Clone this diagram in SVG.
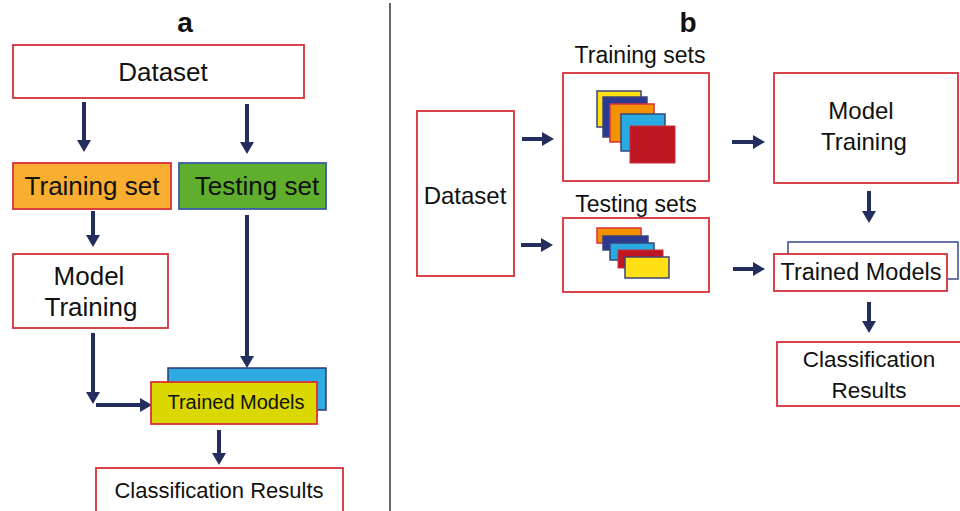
<svg xmlns="http://www.w3.org/2000/svg" width="960" height="511" viewBox="0 0 960 511">
<style>
  text { font-family: "Liberation Sans", Arial, sans-serif; fill: #111; }
  .box { fill: #fff; stroke: #d7303a; stroke-width: 1.8; }
  .arr { stroke: #232d5e; stroke-width: 4; fill: none; marker-end: url(#ah); }
  .lbl { font-size: 26px; text-anchor: middle; }
  .lblb { font-size: 23px; text-anchor: middle; }
  .ttl { font-size: 28px; font-weight: bold; text-anchor: middle; }
  .sk { stroke: #3b4478; stroke-width: 1.5; }
</style>
<defs>
  <marker id="ah" viewBox="0 0 12 14" refX="5" refY="7" markerWidth="12" markerHeight="14" markerUnits="userSpaceOnUse" orient="auto">
    <path d="M0,0 L12,7 L0,14 z" fill="#232d5e"/>
  </marker>
</defs>
<rect width="960" height="511" fill="#fff"/>

<line x1="390" y1="3" x2="390" y2="511" stroke="#333" stroke-width="1.5"/>

<text class="ttl" x="185" y="32">a</text>
<text class="ttl" x="688" y="32">b</text>

<g id="connectors">
  <line class="arr" x1="84" y1="102" x2="84" y2="145"/>
  <line class="arr" x1="247" y1="104" x2="247" y2="147"/>
  <line class="arr" x1="93" y1="211" x2="93" y2="240"/>
  <line class="arr" x1="247" y1="215" x2="247" y2="361"/>
  <line class="arr" x1="93" y1="333" x2="93" y2="397"/>
  <line class="arr" x1="96" y1="405" x2="145" y2="405"/>
  <line class="arr" x1="219" y1="430" x2="219" y2="458"/>
  <line class="arr" x1="522" y1="139" x2="547" y2="139"/>
  <line class="arr" x1="521" y1="245" x2="546" y2="245"/>
  <line class="arr" x1="732" y1="142" x2="758" y2="142"/>
  <line class="arr" x1="733" y1="269" x2="758" y2="269"/>
  <line class="arr" x1="869" y1="191" x2="869" y2="216"/>
  <line class="arr" x1="869" y1="302" x2="869" y2="326"/>
</g>

<!-- Panel a -->
<g id="a-dataset">
  <rect class="box" x="13" y="45" width="291" height="53"/>
  <text class="lbl" x="163" y="81">Dataset</text>
</g>
<g id="a-training-set">
  <rect x="13" y="163" width="158" height="46" fill="#f7ae31" stroke="#d7303a" stroke-width="1.8"/>
  <text class="lbl" x="92" y="195">Training set</text>
</g>
<g id="a-testing-set">
  <rect x="179" y="163" width="147" height="46" fill="#5fae2e" stroke="#3a5ba8" stroke-width="1.8"/>
  <text class="lbl" x="257" y="195">Testing set</text>
</g>
<g id="a-model-training">
  <rect class="box" x="13" y="254" width="155" height="74"/>
  <text class="lbl" x="89" y="285">Model</text>
  <text class="lbl" x="91" y="316">Training</text>
</g>
<g id="a-trained-models">
  <rect x="168" y="368" width="158" height="42" fill="#2ea9e1" stroke="#2b3a6e" stroke-width="1.5"/>
  <rect x="151" y="382" width="166" height="42" fill="#dad800" stroke="#d7303a" stroke-width="1.8"/>
  <text x="236" y="409" font-size="20" text-anchor="middle">Trained Models</text>
</g>
<g id="a-classification-results">
  <rect class="box" x="96" y="468" width="247" height="46"/>
  <text x="219" y="498" font-size="22" text-anchor="middle">Classification Results</text>
</g>

<!-- Panel b -->
<g id="b-dataset">
  <rect class="box" x="417" y="111" width="97" height="165"/>
  <text x="465" y="204" font-size="24" text-anchor="middle">Dataset</text>
</g>
<g id="b-training-sets">
  <text class="lblb" x="640" y="63">Training sets</text>
  <rect class="box" x="563" y="73" width="146" height="108"/>
  <rect class="sk" x="597" y="91" width="44" height="36" fill="#ffe015"/>
  <rect class="sk" x="603" y="97" width="44" height="40" fill="#2b3990"/>
  <rect x="610" y="104" width="44" height="38" fill="#f39200" stroke="#d7303a" stroke-width="1.5"/>
  <rect class="sk" x="621" y="114" width="44" height="37" fill="#29abe2"/>
  <rect x="630" y="126" width="45" height="37" fill="#be1622" stroke="#c8323c" stroke-width="1"/>
</g>
<g id="b-testing-sets">
  <text class="lblb" x="636" y="212">Testing sets</text>
  <rect class="box" x="563" y="218" width="146" height="74"/>
  <rect x="597" y="228" width="44" height="15" fill="#f39200" stroke="#d7303a" stroke-width="1.5"/>
  <rect class="sk" x="603" y="236" width="45" height="14" fill="#2b3990"/>
  <rect class="sk" x="610" y="243" width="44" height="17" fill="#29abe2"/>
  <rect x="618" y="250" width="45" height="18" fill="#be1622" stroke="#c8323c" stroke-width="1"/>
  <rect class="sk" x="625" y="257" width="44" height="21" fill="#ffe015"/>
</g>
<g id="b-model-training">
  <rect class="box" x="774" y="73" width="184" height="110"/>
  <text x="861" y="119" font-size="24" text-anchor="middle">Model</text>
  <text x="864" y="150" font-size="24" text-anchor="middle">Training</text>
</g>
<g id="b-trained-models">
  <rect x="788" y="242" width="170" height="37" fill="#fff" stroke="#3a4a8a" stroke-width="1.5"/>
  <rect class="box" x="774" y="254" width="173" height="37"/>
  <text x="861" y="280" font-size="23.5" text-anchor="middle">Trained Models</text>
</g>
<g id="b-classification-results">
  <rect class="box" x="777" y="342" width="186" height="64"/>
  <text x="869" y="367" font-size="22.5" text-anchor="middle">Classification</text>
  <text x="869" y="398" font-size="22.5" text-anchor="middle">Results</text>
</g>
</svg>
